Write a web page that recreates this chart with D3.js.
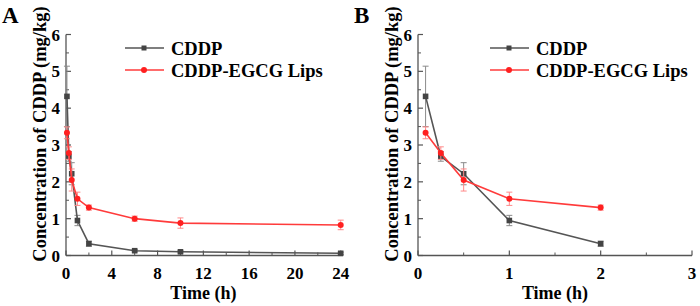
<!DOCTYPE html>
<html>
<head>
<meta charset="utf-8">
<script src="https://cdn.jsdelivr.net/npm/d3@7"></script>
<style>
  html, body { margin: 0; padding: 0; background: #fff; }
  svg { display: block; font-family: "Liberation Serif", "Times New Roman", serif; font-weight: bold; }
</style>
</head>
<body>
<svg id="chart" width="700" height="306"></svg>
<script>
// Plasma CDDP concentration over time, two panels (full 24 h and first 2 h)

const times = [0.083, 0.25, 0.5, 1, 2, 6, 10, 24];
const cddpMean = [4.32, 2.69, 2.22, 0.95, 0.32, 0.13, 0.10, 0.06];
const cddpErr  = [0.82, 0.13, 0.30, 0.14, 0.07, 0.03, 0.03, 0.03];
const lipsMean = [3.33, 2.78, 2.05, 1.54, 1.30, 1.00, 0.88, 0.83];
const lipsErr  = [0.16, 0.17, 0.30, 0.18, 0.07, 0.07, 0.14, 0.13];

const seriesNames = ["CDDP", "CDDP-EGCG Lips"];
const yTicks = [0, 1, 2, 3, 4, 5, 6];
const xTicksA = [0, 4, 8, 12, 16, 20, 24];
const xTicksB = [0, 1, 2, 3];

const series = [
  { name: seriesNames[0], mean: cddpMean, err: cddpErr, line: "#555555", mark: "#444444", bar: "#8a8a8a", shape: "square" },
  { name: seriesNames[1], mean: lipsMean, err: lipsErr, line: "#ff3b3b", mark: "#ff2020", bar: "#ff8a8a", shape: "circle" }
];

const svg = d3.select("#chart");

function panel({ letter, x0, x1, xDomain, xTicks, minorStep, maxT, legendX }) {
  const g = svg.append("g");
  const x = d3.scaleLinear().domain(xDomain).range([x0, x1]);
  const y = d3.scaleLinear().domain([0, 6]).range([255.5, 34.5]);

  const axisColor = "#555";

  // axes lines
  g.append("line").attr("x1", x0).attr("x2", x0).attr("y1", y(6)).attr("y2", y(0))
    .attr("stroke", axisColor).attr("stroke-width", 1.3);
  g.append("line").attr("x1", x0).attr("x2", x1).attr("y1", y(0)).attr("y2", y(0))
    .attr("stroke", axisColor).attr("stroke-width", 1.3);

  // y ticks (inward), major + minor
  const yMinor = d3.range(0.5, 6, 1);
  g.selectAll(".ymaj").data(yTicks).join("line")
    .attr("x1", x0).attr("x2", x0 + 5).attr("y1", d => y(d)).attr("y2", d => y(d))
    .attr("stroke", axisColor).attr("stroke-width", 1.2);
  g.selectAll(".ymin").data(yMinor).join("line")
    .attr("x1", x0).attr("x2", x0 + 3).attr("y1", d => y(d)).attr("y2", d => y(d))
    .attr("stroke", axisColor).attr("stroke-width", 1);
  g.selectAll(".ylab").data(yTicks).join("text")
    .attr("x", x0 - 6).attr("y", d => y(d) + 6)
    .attr("text-anchor", "end").attr("font-size", 17).text(d => d);

  // x ticks (inward)
  const xMinor = d3.range(minorStep, xDomain[1], minorStep * 2);
  g.selectAll(".xmaj").data(xTicks).join("line")
    .attr("x1", d => x(d)).attr("x2", d => x(d)).attr("y1", y(0)).attr("y2", y(0) - 5)
    .attr("stroke", axisColor).attr("stroke-width", 1.2);
  g.selectAll(".xmin").data(xMinor).join("line")
    .attr("x1", d => x(d)).attr("x2", d => x(d)).attr("y1", y(0)).attr("y2", y(0) - 3)
    .attr("stroke", axisColor).attr("stroke-width", 1);
  g.selectAll(".xlab").data(xTicks).join("text")
    .attr("x", d => x(d)).attr("y", 279)
    .attr("text-anchor", "middle").attr("font-size", 17).text(d => d);

  // titles
  g.append("text").attr("x", (x0 + x(xTicks[xTicks.length - 1])) / 2).attr("y", 299)
    .attr("text-anchor", "middle").attr("font-size", 18).text("Time (h)");
  g.append("text")
    .attr("transform", `translate(${x0 - 20},${(y(0) + y(6)) / 2 - 11}) rotate(-90)`)
    .attr("text-anchor", "middle").attr("font-size", 18.5).text("Concentration of CDDP (mg/kg)");
  g.append("text").attr("x", x0 - 64).attr("y", 23).attr("font-size", 23).text(letter);

  // series
  const line = d3.line().x(d => x(d.t)).y(d => y(d.v));
  for (const s of series) {
    const pts = times.map((t, i) => ({ t, v: s.mean[i], e: s.err[i] })).filter(d => d.t <= maxT);
    const sg = g.append("g");
    sg.selectAll(".eb").data(pts).join("line")
      .attr("x1", d => x(d.t)).attr("x2", d => x(d.t))
      .attr("y1", d => y(d.v - d.e)).attr("y2", d => y(d.v + d.e))
      .attr("stroke", s.bar).attr("stroke-width", 1);
    for (const side of [-1, 1]) {
      sg.selectAll(".cap" + side).data(pts).join("line")
        .attr("x1", d => x(d.t) - 3).attr("x2", d => x(d.t) + 3)
        .attr("y1", d => y(d.v + side * d.e)).attr("y2", d => y(d.v + side * d.e))
        .attr("stroke", s.bar).attr("stroke-width", 1);
    }
    sg.append("path").datum(pts).attr("d", line)
      .attr("fill", "none").attr("stroke", s.line).attr("stroke-width", 1.6);
    if (s.shape === "square") {
      sg.selectAll(".mk").data(pts).join("rect")
        .attr("x", d => x(d.t) - 2.8).attr("y", d => y(d.v) - 2.8)
        .attr("width", 5.6).attr("height", 5.6).attr("fill", s.mark);
    } else {
      sg.selectAll(".mk").data(pts).join("circle")
        .attr("cx", d => x(d.t)).attr("cy", d => y(d.v)).attr("r", 3)
        .attr("fill", s.mark);
    }
  }

  // legend
  const lg = g.append("g").attr("transform", `translate(${legendX},0)`);
  series.forEach((s, i) => {
    const ly = 48 + i * 22;
    lg.append("line").attr("x1", 0).attr("x2", 39).attr("y1", ly).attr("y2", ly)
      .attr("stroke", s.line).attr("stroke-width", 1.6);
    if (s.shape === "square") {
      lg.append("rect").attr("x", 16.5).attr("y", ly - 2.5).attr("width", 5).attr("height", 5).attr("fill", s.mark);
    } else {
      lg.append("circle").attr("cx", 19).attr("cy", ly).attr("r", 3).attr("fill", s.mark);
    }
    lg.append("text").attr("x", 46).attr("y", ly + 6.5).attr("font-size", 18.5).text(s.name);
  });
}

panel({ letter: "A", x0: 66, x1: 343, xDomain: [0, 24.2], xTicks: xTicksA, minorStep: 2, maxT: 24, legendX: 125 });
panel({ letter: "B", x0: 418, x1: 692, xDomain: [0, 3], xTicks: xTicksB, minorStep: 0.5, maxT: 2, legendX: 490 });
</script>
</body>
</html>
